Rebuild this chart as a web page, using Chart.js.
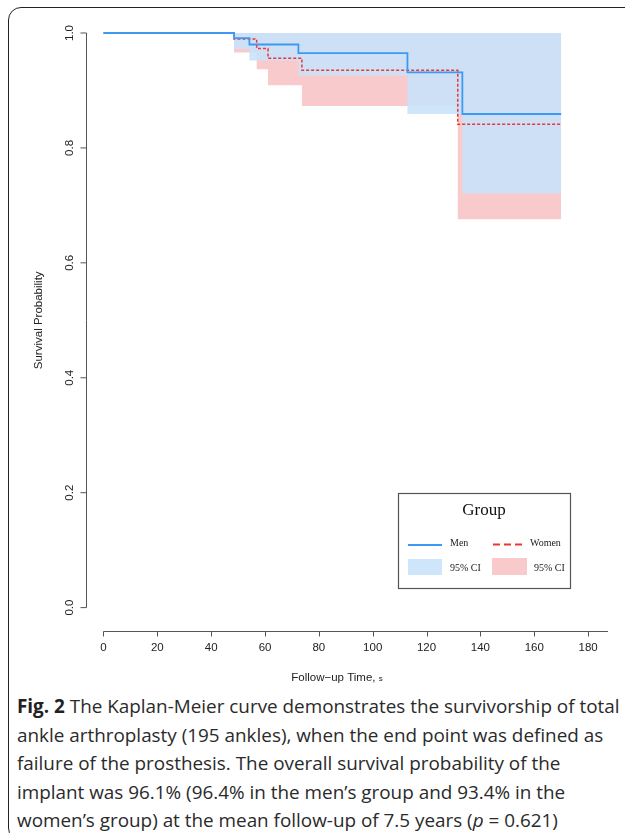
<!DOCTYPE html>
<html><head><meta charset="utf-8">
<script src="https://cdn.jsdelivr.net/npm/chart.js@4"></script>
<style>
html,body{margin:0;padding:0;background:#fff;width:625px;height:833px;overflow:hidden;}
#frame{position:absolute;left:8px;top:7px;width:690px;height:834px;border:1.6px solid #222;border-radius:13px;box-sizing:border-box;}
#wrap{position:absolute;left:0;top:0;width:625px;height:690px;}
#cap{position:absolute;left:17px;top:692px;font-family:"Open Sans",sans-serif;color:#2a2a2a;font-size:18px;line-height:28.5px;white-space:nowrap;}
#cap b{font-weight:700;color:#222;}
</style></head>
<body>
<div id="frame"></div>
<div id="wrap"><canvas id="c" width="625" height="690"></canvas></div>
<div id="cap">
<div id="l1"><b>Fig. 2</b> The Kaplan-Meier curve demonstrates the survivorship of total</div>
<div>ankle arthroplasty (195 ankles), when the end point was defined as</div>
<div>failure of the prosthesis. The overall survival probability of the</div>
<div>implant was 96.1% (96.4% in the men’s group and 93.4% in the</div>
<div>women’s group) at the mean follow-up of 7.5 years (<i>p</i> = 0.621)</div>
</div>
<script>
// ---- data ----
const timeMen    = [0, 48.5, 54.2, 72.4, 112.9, 133.3, 170];
const survMen    = [1, 0.991, 0.980, 0.965, 0.9315, 0.859, 0.859];
const lowerMen   = [1, 0.972, 0.952, 0.926, 0.859, 0.7207, 0.7207];
const upperMen   = [1, 1, 1, 1, 1, 1, 1];
const timeWomen  = [0, 48.5, 56.9, 61.1, 73.7, 131.6, 170];
const survWomen  = [1, 0.9895, 0.973, 0.956, 0.935, 0.841, 0.841];
const lowerWomen = [1, 0.966, 0.937, 0.909, 0.873, 0.676, 0.676];
const upperWomen = [1, 1, 1, 1, 1, 1, 1];
const xTicks = [0, 20, 40, 60, 80, 100, 120, 140, 160, 180];
const yTicks = [0.0, 0.2, 0.4, 0.6, 0.8, 1.0];
const groupNames = ['Men', 'Women'];

const pts = (t, v) => t.map((x, i) => ({x: x, y: v[i]}));

const BLUE = '#3d9af2', RED = '#ee3535';
const BLUE_FILL = 'rgba(201,226,249,0.9)', PINK_FILL = 'rgb(249,202,203)';

const axesPlugin = {
  id: 'rAxes',
  afterDatasetsDraw(chart) {
    const ctx = chart.ctx, xs = chart.scales.x, ys = chart.scales.y, ca = chart.chartArea;
    ctx.save();
    ctx.strokeStyle = '#555'; ctx.lineWidth = 1; ctx.fillStyle = '#222';
    // y axis
    const yx = Math.round(ca.left) + 0.5;
    ctx.beginPath();
    ctx.moveTo(yx, ys.getPixelForValue(yTicks[0]));
    ctx.lineTo(yx, ys.getPixelForValue(yTicks[yTicks.length - 1]));
    yTicks.forEach(v => { const p = ys.getPixelForValue(v); ctx.moveTo(yx, p); ctx.lineTo(yx - 6, p); });
    ctx.stroke();
    ctx.font = '11.5px "Liberation Sans", Arial, sans-serif';
    ctx.textAlign = 'center'; ctx.textBaseline = 'middle';
    yTicks.forEach(v => {
      const p = ys.getPixelForValue(v);
      ctx.save(); ctx.translate(70, p); ctx.rotate(-Math.PI / 2); ctx.fillText(v.toFixed(1), 0, 0); ctx.restore();
    });
    ctx.save(); ctx.translate(39, (ys.getPixelForValue(0) + ys.getPixelForValue(1)) / 2); ctx.rotate(-Math.PI / 2);
    ctx.fillText('Survival Probability', 0, 0); ctx.restore();
    // x axis
    const xy = Math.round(ca.bottom) + 0.5;
    ctx.beginPath();
    ctx.moveTo(xs.getPixelForValue(xTicks[0]), xy);
    ctx.lineTo(xs.getPixelForValue(187.4), xy);
    xTicks.forEach(v => { const p = Math.round(xs.getPixelForValue(v)) + 0.5; ctx.moveTo(p, xy); ctx.lineTo(p, xy + 5); });
    ctx.stroke();
    xTicks.forEach(v => ctx.fillText(String(v), xs.getPixelForValue(v), 648));
    const xMid = (ca.left + xs.getPixelForValue(187.4)) / 2 - 10;
    ctx.textAlign = 'left';
    const t1 = 'Follow\u2212up Time, ';
    const w1 = ctx.measureText(t1).width;
    ctx.fillText(t1, xMid - w1 / 2 - 2, 678);
    ctx.font = '8px "Liberation Sans", Arial, sans-serif';
    ctx.fillText('s', xMid + w1 / 2 - 2, 679);
    // legend box
    ctx.strokeStyle = '#555'; ctx.lineWidth = 1.2;
    ctx.strokeRect(398.5, 493.5, 172, 95);
    ctx.fillStyle = '#111'; ctx.textAlign = 'center';
    ctx.font = '17px "Liberation Serif", "Times New Roman", serif';
    ctx.fillText('Group', 484, 511);
    ctx.lineWidth = 2; ctx.strokeStyle = BLUE;
    ctx.beginPath(); ctx.moveTo(408, 545); ctx.lineTo(442, 545); ctx.stroke();
    ctx.strokeStyle = RED; ctx.setLineDash([7, 4]);
    ctx.beginPath(); ctx.moveTo(493, 544.5); ctx.lineTo(525, 544.5); ctx.stroke();
    ctx.setLineDash([]);
    ctx.fillStyle = 'rgb(207,229,250)'; ctx.fillRect(408, 559, 34, 16);
    ctx.fillStyle = PINK_FILL; ctx.fillRect(492, 558, 35, 17);
    ctx.fillStyle = '#222'; ctx.textAlign = 'left';
    ctx.font = '10px "Liberation Serif", "Times New Roman", serif';
    ctx.fillText(groupNames[0], 450, 543);
    ctx.fillText(groupNames[1], 530, 543);
    ctx.fillText('95% CI', 450, 568);
    ctx.fillText('95% CI', 534, 568);
    ctx.restore();
  }
};

new Chart(document.getElementById('c'), {
  type: 'line',
  data: {
    datasets: [
      {label: groupNames[0], data: pts(timeMen, survMen), borderColor: BLUE, borderWidth: 1.8, stepped: true, pointRadius: 0, fill: false},
      {label: groupNames[1], data: pts(timeWomen, survWomen), borderColor: RED, borderWidth: 1.5, borderDash: [3, 2], stepped: true, pointRadius: 0, fill: false},
      {label: 'Men upper', data: pts(timeMen, upperMen), borderWidth: 0, borderColor: 'rgba(0,0,0,0)', stepped: true, pointRadius: 0, fill: false},
      {label: 'Men 95% CI', data: pts(timeMen, lowerMen), borderWidth: 0, borderColor: 'rgba(0,0,0,0)', backgroundColor: BLUE_FILL, stepped: true, pointRadius: 0, fill: '-1'},
      {label: 'Women upper', data: pts(timeWomen, upperWomen), borderWidth: 0, borderColor: 'rgba(0,0,0,0)', stepped: true, pointRadius: 0, fill: false},
      {label: 'Women 95% CI', data: pts(timeWomen, lowerWomen), borderWidth: 0, borderColor: 'rgba(0,0,0,0)', backgroundColor: PINK_FILL, stepped: true, pointRadius: 0, fill: '-1'}
    ]
  },
  options: {
    responsive: false, animation: false, devicePixelRatio: 1,
    layout: {padding: {left: 86, right: 10, top: 10, bottom: 59.4}},
    plugins: {legend: {display: false}, tooltip: {enabled: false}},
    scales: {
      x: {type: 'linear', min: -6.5, max: 190, display: false},
      y: {type: 'linear', min: -0.04, max: 1.04, display: false}
    }
  },
  plugins: [axesPlugin]
});

// fit caption font so the first line spans the reference width
(function(){
  const l1 = document.getElementById('l1'), cap = document.getElementById('cap');
  const target = 603;
  l1.style.display = 'inline-block';
  const w2 = l1.getBoundingClientRect().width;
  l1.style.display = '';
  const fs = 18 * target / w2;
  cap.style.fontSize = fs.toFixed(2) + 'px';
})();
</script>
</body></html>
